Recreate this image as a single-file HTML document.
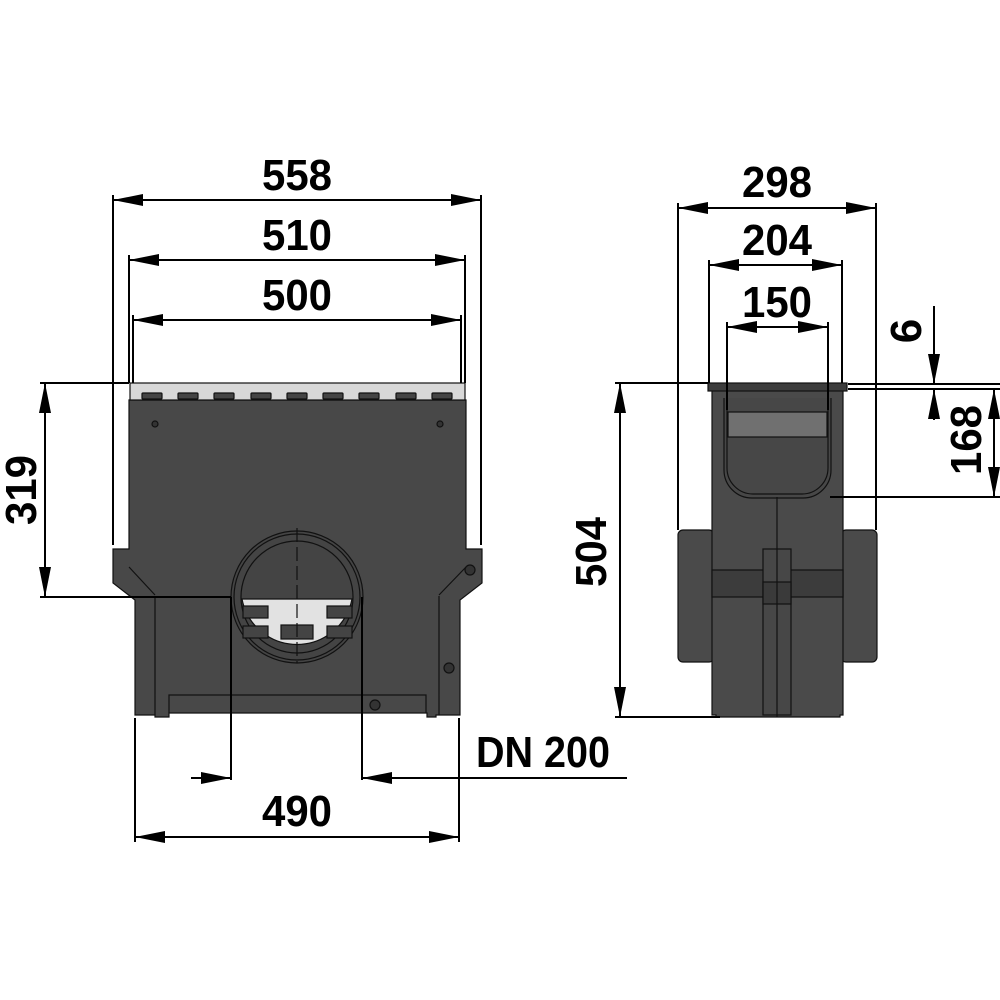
<!DOCTYPE html>
<html><head><style>html,body{margin:0;padding:0;background:#fff}svg{display:block}</style></head>
<body>
<svg width="1000" height="1000" viewBox="0 0 1000 1000" xmlns="http://www.w3.org/2000/svg">
<defs>
<marker id="b" viewBox="0 0 30 12" refX="30" refY="6" markerWidth="30" markerHeight="12" markerUnits="userSpaceOnUse" orient="auto-start-reverse"><path d="M0,0L30,6L0,12z" fill="#000"/></marker>
</defs>
<!-- front view -->
<g stroke="#111" stroke-width="1.2">
<path d="M129,400H466V549H482V583L460,600V715H436V717H427V713H169V717H155V715H135V600L113,583V549H129Z" fill="#484848"/>
<path d="M155,596V715M439,596V715M129,567L155,595M466,567L439,595M169,713V695H426V713" fill="none"/>
<rect x="130" y="383" width="335" height="17" fill="#d8d8d8"/>
<g fill="#444">
<rect x="142" y="393" width="20" height="6" rx="1"/><rect x="178" y="393" width="20" height="6" rx="1"/><rect x="214" y="393" width="20" height="6" rx="1"/><rect x="251" y="393" width="20" height="6" rx="1"/><rect x="287" y="393" width="20" height="6" rx="1"/><rect x="323" y="393" width="20" height="6" rx="1"/><rect x="359" y="393" width="20" height="6" rx="1"/><rect x="396" y="393" width="20" height="6" rx="1"/><rect x="432" y="393" width="20" height="6" rx="1"/>
</g>
<circle cx="297" cy="597" r="66" fill="#444"/>
<circle cx="297" cy="597" r="63" fill="none"/>
<circle cx="297" cy="597" r="56" fill="#444"/>
<path d="M242,599H352A56,56 0 0 1 242,599Z" fill="#e2e2e2"/>
<g fill="#444"><rect x="243" y="606" width="25" height="12"/><rect x="327" y="606" width="25" height="12"/><rect x="243" y="626" width="25" height="12"/><rect x="327" y="626" width="25" height="12"/><rect x="281" y="625" width="32" height="14"/></g>
<line x1="297" y1="528" x2="297" y2="663" stroke-dasharray="14,5"/>
<circle cx="155" cy="424" r="3" fill="#333"/><circle cx="440" cy="424" r="3" fill="#333"/>
<circle cx="470" cy="570" r="5" fill="#333"/><circle cx="449" cy="668" r="5" fill="#333"/><circle cx="375" cy="705" r="5" fill="#333"/>
</g>
<!-- side view -->
<g stroke="#111" stroke-width="1.2">
<rect x="678" y="530" width="36" height="132" rx="5" fill="#4a4a4a"/>
<rect x="841" y="530" width="36" height="132" rx="5" fill="#4a4a4a"/>
<path d="M712,390H843V715H840V717H716V715H712Z" fill="#4a4a4a"/>
<rect x="708" y="383" width="139" height="8" fill="#3c3c3c"/>
<path d="M724,398V470A28,28 0 0 0 752,498H803A28,28 0 0 0 831,470V398" fill="#474747"/>
<path d="M727,398V468A26,26 0 0 0 753,494H802A26,26 0 0 0 828,468V398" fill="none"/>
<rect x="728" y="412" width="99" height="25" fill="#707070"/>
<rect x="712" y="570" width="131" height="27" fill="#3c3c3c"/>
<rect x="763" y="549" width="28" height="166" fill="#474747"/>
<rect x="763" y="582" width="28" height="22" fill="#3a3a3a"/>
<line x1="777" y1="497" x2="777" y2="717"/>
</g>
<g font-family="Liberation Sans, sans-serif" font-weight="bold" font-size="44" fill="#000" text-anchor="middle">
<text x="297" y="190" textLength="70" lengthAdjust="spacingAndGlyphs">558</text>
<text x="297" y="250" textLength="70" lengthAdjust="spacingAndGlyphs">510</text>
<text x="297" y="310" textLength="70" lengthAdjust="spacingAndGlyphs">500</text>
<text x="297" y="826" textLength="70" lengthAdjust="spacingAndGlyphs">490</text>
<text x="543" y="767" textLength="134" lengthAdjust="spacingAndGlyphs">DN 200</text>
<text x="777" y="197" textLength="70" lengthAdjust="spacingAndGlyphs">298</text>
<text x="777" y="255" textLength="70" lengthAdjust="spacingAndGlyphs">204</text>
<text x="777" y="317" textLength="70" lengthAdjust="spacingAndGlyphs">150</text>
<text transform="translate(36,490) rotate(-90)" textLength="70" lengthAdjust="spacingAndGlyphs">319</text>
<text transform="translate(606,552) rotate(-90)" textLength="70" lengthAdjust="spacingAndGlyphs">504</text>
<text transform="translate(921,331) rotate(-90)">6</text>
<text transform="translate(981,440) rotate(-90)" textLength="70" lengthAdjust="spacingAndGlyphs">168</text>
</g>
<g stroke="#000" stroke-width="2" fill="none">
<path d="M113,195V545M481,195V545M129,255V383M465,255V383M133,315V383M461,315V383M135,718V842M459,718V842M231,597V780M362,597V780M40,383H129M40,597H231M678,203V530M876,203V530M709,260V383M842,260V383M727,322V410M828,322V410M615,383H708M615,717H720M848,384H1000M848,389H1000M830,497H1000"/>
<line x1="113" y1="200" x2="481" y2="200" marker-start="url(#b)" marker-end="url(#b)"/>
<line x1="129" y1="260" x2="465" y2="260" marker-start="url(#b)" marker-end="url(#b)"/>
<line x1="133" y1="320" x2="461" y2="320" marker-start="url(#b)" marker-end="url(#b)"/>
<line x1="135" y1="837" x2="459" y2="837" marker-start="url(#b)" marker-end="url(#b)"/>
<line x1="191" y1="778" x2="231" y2="778" marker-end="url(#b)"/>
<line x1="627" y1="778" x2="362" y2="778" marker-end="url(#b)"/>
<line x1="678" y1="208" x2="876" y2="208" marker-start="url(#b)" marker-end="url(#b)"/>
<line x1="709" y1="265" x2="842" y2="265" marker-start="url(#b)" marker-end="url(#b)"/>
<line x1="727" y1="327" x2="828" y2="327" marker-start="url(#b)" marker-end="url(#b)"/>
<line x1="45" y1="383" x2="45" y2="597" marker-start="url(#b)" marker-end="url(#b)"/>
<line x1="620" y1="383" x2="620" y2="717" marker-start="url(#b)" marker-end="url(#b)"/>
<line x1="994" y1="389" x2="994" y2="497" marker-start="url(#b)" marker-end="url(#b)"/>
<line x1="934" y1="306" x2="934" y2="384" marker-end="url(#b)"/>
<line x1="934" y1="420" x2="934" y2="389" marker-end="url(#b)"/>
</g>
</svg>
</body></html>
